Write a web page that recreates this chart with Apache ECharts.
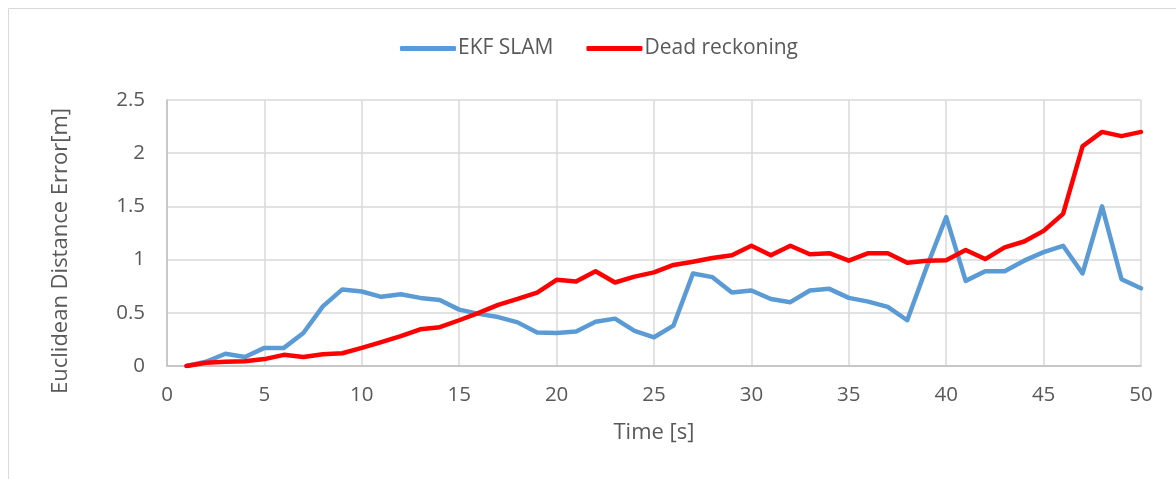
<!DOCTYPE html>
<html>
<head>
<meta charset="utf-8">
<script src="https://cdn.jsdelivr.net/npm/echarts@6/dist/echarts.min.js"></script>
<style>
html,body{margin:0;padding:0;background:#fff;}
#c{width:1176px;height:479px;}
</style>
</head>
<body>
<div id="c"></div>
<script>
const timeSteps = [1,2,3,4,5,6,7,8,9,10,11,12,13,14,15,16,17,18,19,20,21,22,23,24,25,26,27,28,29,30,31,32,33,34,35,36,37,38,39,40,41,42,43,44,45,46,47,48,49,50];
const ekfSlam = [0,0.04,0.115,0.085,0.17,0.17,0.31,0.56,0.72,0.70,0.65,0.675,0.64,0.62,0.53,0.49,0.46,0.41,0.315,0.31,0.325,0.415,0.445,0.33,0.27,0.38,0.87,0.835,0.69,0.71,0.63,0.60,0.71,0.725,0.64,0.605,0.555,0.43,0.93,1.40,0.80,0.89,0.89,0.99,1.07,1.13,0.87,1.50,0.815,0.73];
const deadReckoning = [0,0.03,0.04,0.045,0.065,0.105,0.085,0.11,0.12,0.17,0.225,0.28,0.345,0.365,0.43,0.50,0.575,0.63,0.69,0.81,0.795,0.89,0.785,0.84,0.88,0.95,0.98,1.015,1.04,1.13,1.04,1.13,1.05,1.06,0.99,1.06,1.06,0.97,0.99,0.995,1.09,1.005,1.115,1.17,1.27,1.43,2.065,2.20,2.16,2.20];
const seriesNames = ['EKF SLAM','Dead reckoning'];
const xTitle = 'Time [s]';
const yTitle = 'Euclidean Distance Error[m]';

const font = '"Open Sans", sans-serif';
const txt = '#595959';
const chart = echarts.init(document.getElementById('c'));
const pair = (vals) => timeSteps.map((t,i)=>[t, vals[i]]);
chart.setOption({
  animation:false,
  backgroundColor:'#fff',
  graphic:[
    {type:'line', shape:{x1:8.5,y1:8.5,x2:8.5,y2:479}, style:{stroke:'#d9d9d9',lineWidth:1}},
    {type:'line', shape:{x1:8.5,y1:8.5,x2:1176,y2:8.5}, style:{stroke:'#d9d9d9',lineWidth:1}}
  ],
  legend:{
    top:38, left:400, padding:0,
    itemWidth:56, itemHeight:5, itemGap:33,
    icon:'roundRect',
    textStyle:{fontFamily:font,fontSize:21,color:txt,padding:[0,0,0,-3]},
    data:seriesNames
  },
  grid:{left:167,right:35,top:100,bottom:113},
  xAxis:{
    type:'value', min:0, max:50, interval:5,
    name:xTitle, nameLocation:'middle', nameGap:56,
    nameTextStyle:{fontFamily:font,fontSize:22,color:txt},
    axisLine:{show:true,lineStyle:{color:'#bfbfbf',width:1.5}},
    axisTick:{show:false},
    axisLabel:{fontFamily:font,fontSize:20.5,color:txt,margin:19},
    splitLine:{show:true,lineStyle:{color:'#d9d9d9',width:1.5}}
  },
  yAxis:{
    type:'value', min:0, max:2.5, interval:0.5,
    name:yTitle, nameLocation:'middle', nameGap:95,
    nameTextStyle:{fontFamily:font,fontSize:22,color:txt,padding:[0,36,0,0]},
    axisLine:{show:true,lineStyle:{color:'#bfbfbf',width:1.5}},
    axisTick:{show:false},
    axisLabel:{fontFamily:font,fontSize:20.5,color:txt,margin:22},
    splitLine:{show:true,lineStyle:{color:'#d9d9d9',width:1.5}}
  },
  series:[
    {name:seriesNames[0],type:'line',data:pair(ekfSlam),showSymbol:false,symbol:'none',
     color:'#5b9bd5',lineStyle:{color:'#5b9bd5',width:4.5,cap:'round',join:'round'}},
    {name:seriesNames[1],type:'line',data:pair(deadReckoning),showSymbol:false,symbol:'none',
     color:'#ff0000',lineStyle:{color:'#ff0000',width:4.5,cap:'round',join:'round'}}
  ]
});
</script>
</body>
</html>
